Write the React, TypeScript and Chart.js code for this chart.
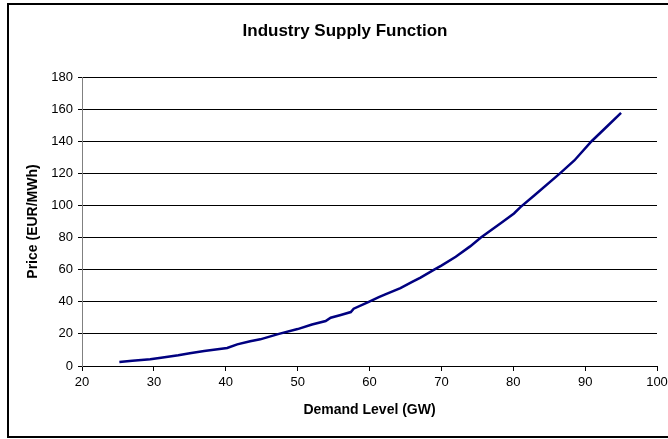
import React, { useEffect, useRef } from "react";
import { Chart, registerables } from "chart.js";

Chart.register(...registerables);

const demandGW: number[] = [
  25.2, 27, 29.5, 31, 33.4, 35, 37, 40.2, 41.6, 43.4, 44.8, 47.4, 50, 52, 53.9,
  54.6, 56, 57.4, 57.8, 59.9, 61.3, 62.2, 64.3, 66, 67.1, 69, 70, 72, 74, 75.5,
  78.3, 80.1, 81, 83, 86.5, 88.5, 90.9, 93, 95,
];
const priceEUR: number[] = [
  2.5, 3.3, 4.2, 5.2, 6.7, 8, 9.3, 11.2, 13.5, 15.4, 16.6, 20, 23, 25.8, 28,
  30.1, 31.8, 33.6, 35.7, 40, 42.9, 44.6, 48.5, 52.5, 55, 60, 62.5, 68, 74.5, 80,
  89, 95, 99, 106.5, 120, 128, 140, 149, 157.6,
];
const chartTitle = "Industry Supply Function";
const xTitle = "Demand Level (GW)";
const yTitle = "Price (EUR/MWh)";

const FONT = "'Liberation Sans', Arial, sans-serif";

const framePlugin = {
  id: "frame",
  beforeDraw(chart: any) {
    const ctx = chart.ctx;
    ctx.save();
    ctx.fillStyle = "#ffffff";
    ctx.fillRect(0, 0, chart.width, chart.height);
    ctx.strokeStyle = "#000000";
    ctx.lineWidth = 2;
    ctx.strokeRect(8, 4, 700, 433);
    ctx.restore();
  },
  afterDraw(chart: any) {
    const ctx = chart.ctx;
    ctx.save();
    ctx.fillStyle = "#000000";
    ctx.font = `bold 17px ${FONT}`;
    ctx.textAlign = "center";
    ctx.textBaseline = "middle";
    ctx.fillText(chartTitle, 345, 31);
    ctx.restore();
  },
};

export default function App() {
  const ref = useRef<HTMLCanvasElement | null>(null);
  useEffect(() => {
    if (!ref.current) return;
    const chart = new Chart(ref.current, {
      type: "scatter",
      data: {
        datasets: [
          {
            data: demandGW.map((x, i) => ({ x, y: priceEUR[i] })),
            showLine: true,
            borderColor: "#000080",
            borderWidth: 2.5,
            pointRadius: 0,
            tension: 0,
          },
        ],
      },
      options: {
        responsive: false,
        animation: false,
        devicePixelRatio: 1,
        layout: { padding: { top: 77, left: 8, right: 11, bottom: 0 } },
        plugins: {
          legend: { display: false },
          title: { display: false },
          tooltip: { enabled: false },
        },
        scales: {
          x: {
            type: "linear",
            min: 20,
            max: 100,
            afterFit: (s: any) => {
              s.height = 73;
              s.paddingLeft = 0;
              s.paddingRight = 0;
            },
            ticks: {
              stepSize: 10,
              color: "#000",
              font: { family: FONT, size: 13 },
              padding: 4,
              maxRotation: 0,
            },
            grid: {
              drawOnChartArea: false,
              drawTicks: true,
              tickLength: 5,
              color: "#000",
            },
            border: { color: "#000", width: 1 },
            title: {
              display: true,
              text: xTitle,
              color: "#000",
              font: { family: FONT, size: 14, weight: "bold" },
              padding: { top: 0, bottom: 20.5 },
            },
          },
          y: {
            type: "linear",
            min: 0,
            max: 180,
            afterFit: (s: any) => {
              s.width = 74;
              s.paddingTop = 0;
              s.paddingBottom = 0;
            },
            ticks: {
              stepSize: 20,
              color: "#000",
              font: { family: FONT, size: 13 },
              padding: 5,
            },
            grid: {
              drawOnChartArea: true,
              drawTicks: true,
              tickLength: 4,
              color: "#000",
            },
            border: { color: "#808080", width: 1 },
            title: {
              display: true,
              text: yTitle,
              color: "#000",
              font: { family: FONT, size: 14, weight: "bold" },
              padding: { top: 16.5, bottom: 0 },
            },
          },
        },
      },
      plugins: [framePlugin],
    });
    return () => chart.destroy();
  }, []);
  return (
    <div style={{ position: "absolute", left: 0, top: 0, width: 668, height: 439 }}>
      <canvas ref={ref} width={668} height={439} />
    </div>
  );
}
